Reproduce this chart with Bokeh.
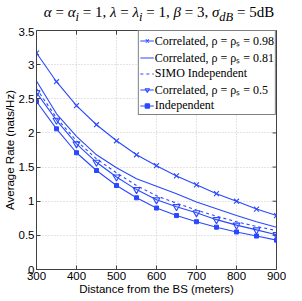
import math
from bokeh.plotting import figure
from bokeh.models import Range1d, FixedTicker, Legend, LegendItem, Div
from bokeh.layouts import column
from bokeh.embed import file_html
from bokeh.resources import INLINE

# ---- data ----
distance = [300, 350, 400, 450, 500, 550, 600, 650, 700, 750, 800, 850, 900]
corr_098 = [3.17, 2.75, 2.40, 2.12, 1.885, 1.68, 1.52, 1.37, 1.24, 1.11, 1.00, 0.885, 0.79]
corr_081 = [2.76, 2.28, 1.95, 1.68, 1.49, 1.33, 1.22, 1.11, 0.99, 0.89, 0.79, 0.70, 0.62]
simo_ind = [2.65, 2.22, 1.885, 1.62, 1.415, 1.23, 1.08, 0.97, 0.87, 0.78, 0.70, 0.63, 0.57]
corr_050 = [2.59, 2.185, 1.84, 1.57, 1.355, 1.17, 1.02, 0.92, 0.83, 0.73, 0.65, 0.58, 0.51]
independent = [2.46, 2.06, 1.71, 1.45, 1.23, 1.05, 0.90, 0.79, 0.70, 0.62, 0.55, 0.49, 0.43]

x_ticks = [300, 400, 500, 600, 700, 800, 900]
y_ticks = [0, 0.5, 1, 1.5, 2, 2.5, 3, 3.5]
y_tick_labels = ["0", "0.5", "1", "1.5", "2", "2.5", "3", "3.5"]

legend_labels = ["Correlated, \u03c1 = \u03c1\u209b = 0.98",
                 "Correlated, \u03c1 = \u03c1\u209b = 0.81",
                 "SIMO Independent",
                 "Correlated, \u03c1 = \u03c1\u209b = 0.5",
                 "Independent"]
title_html = ("<i>\u03b1</i> = <i>\u03b1<sub>i</sub></i> = 1, "
              "<i>\u03bb</i> = <i>\u03bb<sub>i</sub></i> = 1, "
              "<i>\u03b2</i> = 3, <i>\u03c3<sub>dB</sub></i> = 5dB")

BLUE = "#2a48ff"
AXC = "#404040"
SANS = "Liberation Sans"
SERIF = "Liberation Serif"

p = figure(width=286, height=270, output_backend="svg", toolbar_location=None,
           x_range=Range1d(300, 900), y_range=Range1d(0, 3.5),
           min_border_top=3, min_border_right=10, min_border_left=2, min_border_bottom=2)
p.background_fill_color = "white"
p.outline_line_color = AXC
p.outline_line_width = 1

xa = p.xaxis[0]
ya = p.yaxis[0]
xa.ticker = FixedTicker(ticks=x_ticks)
ya.ticker = FixedTicker(ticks=y_ticks)
ya.major_label_overrides = {t: s for t, s in zip(y_ticks, y_tick_labels)}
xa.axis_label = "Distance from the BS (meters)"
ya.axis_label = "Average Rate (nats/Hz)"
for ax in (xa, ya):
    ax.axis_line_color = AXC
    ax.major_tick_in = 4
    ax.major_tick_out = 0
    ax.minor_tick_line_color = None
    ax.major_tick_line_color = AXC
    ax.major_label_text_font = SANS
    ax.major_label_text_font_size = "11.5px"
    ax.major_label_text_color = "black"
    ax.axis_label_text_font = SANS
    ax.axis_label_text_font_size = "11.5px"
    ax.axis_label_text_font_style = "normal"
    ax.axis_label_text_color = "black"
    ax.axis_label_standoff = 0
    ax.major_label_standoff = 2

# inward ticks on the top and right edges of the box
p.ray(x=x_ticks, y=[3.5] * len(x_ticks), length=4, length_units="screen",
      angle=-math.pi / 2, line_color=AXC, line_width=1)
p.ray(x=[900] * len(y_ticks), y=y_ticks, length=4, length_units="screen",
      angle=math.pi, line_color=AXC, line_width=1)

p.xgrid.ticker = FixedTicker(ticks=x_ticks)
p.ygrid.ticker = FixedTicker(ticks=y_ticks)
p.grid.grid_line_color = "#c8c8c8"
p.grid.grid_line_dash = "1 2"
p.grid.grid_line_width = 1

r1l = p.line(distance, corr_098, color=BLUE, line_width=1.1)
r1m = p.scatter(distance, corr_098, marker="x", size=7, line_color=BLUE, line_width=1.1)
r2l = p.line(distance, corr_081, color=BLUE, line_width=1.1)
r3l = p.line(distance, simo_ind, color=BLUE, line_width=1.1, line_dash="3 3")
r4l = p.line(distance, corr_050, color=BLUE, line_width=1.1)
r4m = p.scatter(distance, corr_050, marker="inverted_triangle", size=7, line_color=BLUE,
                fill_color=None, line_width=1.1)
r5l = p.line(distance, independent, color=BLUE, line_width=1.1)
r5m = p.scatter(distance, independent, marker="square", size=4, line_color=BLUE, fill_color=BLUE)

legend = Legend(items=[
    LegendItem(label=legend_labels[0], renderers=[r1l, r1m]),
    LegendItem(label=legend_labels[1], renderers=[r2l]),
    LegendItem(label=legend_labels[2], renderers=[r3l]),
    LegendItem(label=legend_labels[3], renderers=[r4l, r4m]),
    LegendItem(label=legend_labels[4], renderers=[r5l, r5m]),
], location="top_right")
legend.border_line_color = "black"
legend.border_line_width = 1
legend.background_fill_color = "white"
legend.background_fill_alpha = 1
legend.label_text_font = SERIF
legend.label_text_font_size = "12px"
legend.label_text_color = "black"
legend.glyph_width = 14
legend.glyph_height = 11
legend.label_height = 11
legend.label_standoff = 1
legend.spacing = 0
legend.padding = 1
legend.margin = 0
p.add_layout(legend, "center")

title = Div(text=title_html, width=286, height=17,
            styles={"font-family": SERIF, "font-size": "15px", "text-align": "center",
                    "line-height": "15px", "color": "black", "white-space": "nowrap",
                    "padding-left": "22px", "box-sizing": "border-box"})

layout = column(title, p, spacing=0)
open("out.html", "w").write(file_html(layout, INLINE))
